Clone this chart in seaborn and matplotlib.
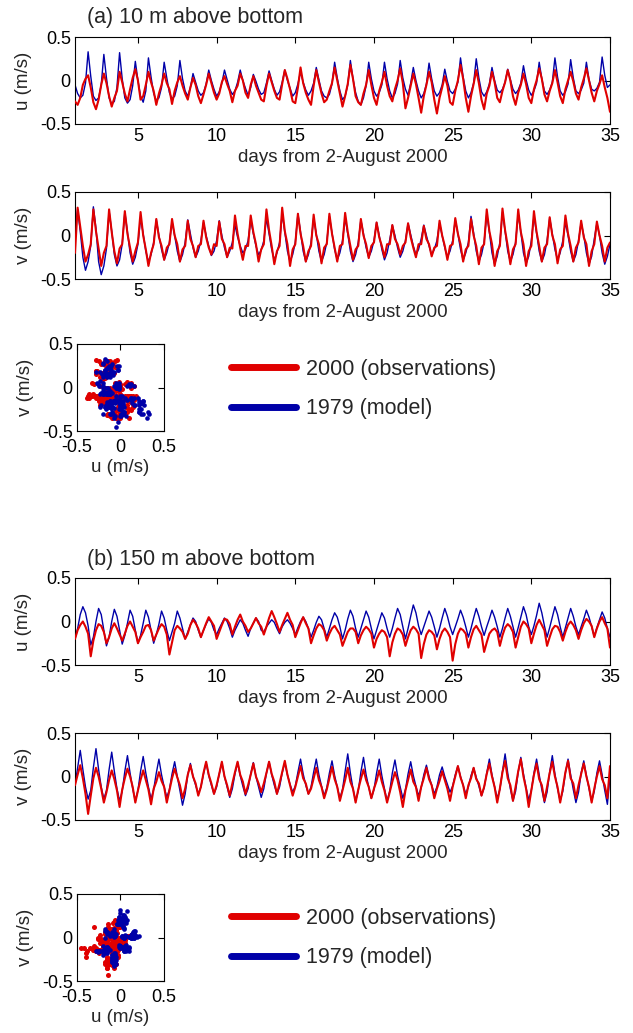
import numpy as np
import matplotlib
matplotlib.use("Agg")
import matplotlib.pyplot as plt
import seaborn as sns
from matplotlib.lines import Line2D

# ---------------- data: velocities in cm/s, 6 samples per day from day 1 to day 35 ----------------
DAY_FIRST, DAY_LAST, SAMPLES_PER_DAY = 1, 35, 6

# (a) 10 m above bottom
A_U_MOD = [-5, -15, -20, -17, -3, 33, 5, -18, -23, -20, -5, 30, 3, -20, -27, -24, -8, 32,
           2, -20, -26, -22, -6, 22, 0, -18, -25, -12, 26, 4, -15, -23, -20, -8, 21, 3,
           -14, -21, -18, -6, 23, 2, -12, -18, -8, 8, -2, -12, -17, -14, -4, 12, 0, -10,
           -18, -13, -3, 12, 1, -10, -16, -12, -2, 12, 0, -9, -17, -8, 7, -1, -10, -16,
           -14, -3, 11, 0, -10, -17, -13, -2, 12, 0, -9, -18, -14, -4, 10, -2, -11, -17,
           -12, -3, 15, 1, -12, -18, -20, -16, -4, 21, 3, -12, -22, -18, -5, 23, 2, -14,
           -24, -28, -20, -6, 21, 2, -12, -18, -14, -5, 21, 2, -12, -20, -15, -4, 23, 3,
           -10, -17, -3, 15, 0, -12, -20, -15, -4, 20, 2, -12, -18, -14, -5, 13, -1, -12,
           -15, -10, -2, 26, 4, -12, -20, -14, -3, 25, 3, -13, -18, -13, -4, 15, 0, -11,
           -14, -10, -2, 13, 1, -10, -15, -11, -3, 17, 1, -11, -17, -12, -3, 21, 2, -12,
           -16, -11, -2, 26, 4, -12, -17, -13, -4, 24, 3, -12, -15, -11, -3, 21, 1, -10,
           -12, -9, -2, 27, 6, -8, -5]
A_U_OBS = [-24, -28, -20, -5, 2, 6, -8, -25, -33, -22, -5, 8, -3, -18, -30, -20, -12, 10,
           -2, -15, -24, -10, 3, 13, 0, -22, -18, -5, 10, -2, -12, -28, -15, -5, 8, -3,
           -10, -27, -12, -2, 5, -6, -15, -22, -8, 3, -5, -18, -26, -16, -5, 8, -3, -14,
           -22, -15, -2, 5, -4, -12, -25, -12, -6, 8, 0, -14, -20, -5, 5, -6, -14, -22,
           -24, -6, 8, -2, -12, -20, -22, -4, 12, 2, -10, -24, -26, -8, 15, -3, -14, -22,
           -28, -6, 12, -2, -15, -25, -22, -12, -3, 15, 0, -15, -30, -18, -4, 18, 2, -18,
           -25, -28, -15, -5, 12, -5, -20, -28, -12, -2, 10, -6, -18, -24, -10, 0, 14, -3,
           -32, -20, -6, 8, -4, -20, -37, -18, -5, 10, -2, -22, -38, -20, -8, 5, -6, -25,
           -28, -12, 0, 18, 2, -20, -36, -18, -4, 12, -3, -22, -33, -15, -6, 10, -2, -20,
           -25, -12, -2, 12, 0, -18, -28, -14, -5, 8, -4, -20, -26, -10, 0, 14, 2, -16,
           -24, -12, -3, 12, -2, -18, -26, -10, 0, 10, -1, -15, -22, -8, 2, 14, 0, -14,
           -24, -12, -4, 6, -8, -20, -36]
A_V_MOD = [5, 30, 5, -25, -40, -30, -12, 33, 8, -30, -45, -35, -15, 28, 5, -22, -35, -28,
           -10, 27, 4, -20, -33, -25, -10, 20, 2, -18, -30, -22, -8, 18, 0, -16, -28, -20,
           -8, 16, 0, -18, -30, -22, -8, 18, 2, -14, -25, -18, -6, 15, 0, -12, -23, -18,
           -6, 17, 0, -14, -25, -18, -8, 12, -2, -12, -20, -16, -6, 18, 2, -12, -22, -17,
           -6, 20, 2, -16, -28, -20, -8, 25, 4, -18, -30, -22, -8, 25, 4, -18, -30, -22,
           -8, 20, 2, -18, -30, -22, -8, 22, 3, -16, -28, -20, -6, 20, 2, -18, -30, -22,
           -8, 18, 2, -14, -25, -18, -6, 15, 0, -16, -28, -20, -5, 12, 0, -14, -25, -18,
           -6, 14, 1, -12, -22, -16, -4, 12, 0, -12, -22, -16, -6, 14, 0, -14, -25, -18,
           -6, 18, 2, -16, -28, -20, -8, 22, 3, -18, -30, -22, -8, 25, 4, -20, -33, -24,
           -8, 27, 5, -18, -30, -22, -8, 25, 4, -20, -32, -24, -6, 22, 3, -18, -30, -22,
           -6, 20, 2, -16, -28, -20, -6, 15, 0, -18, -30, -22, -6, 15, 0, -20, -33, -24,
           -4, 14, 0, -20, -33, -24, -10]
A_V_OBS = [-20, 32, 10, -12, -30, -22, -10, 30, 5, -15, -35, -20, -12, 30, 4, -18, -32, -15,
           -10, 28, 2, -14, -30, -18, -8, 27, 0, -16, -35, -20, -10, 19, -2, -12, -28, -14,
           -10, 19, 0, -10, -30, -16, -12, 17, -4, -12, -25, -12, -10, 17, -2, -14, -22, -10,
           -12, 16, -4, -10, -25, -14, -15, 23, 2, -14, -28, -12, -12, 23, 4, -10, -30, -16,
           -10, 30, 6, -12, -33, -18, -12, 32, 5, -10, -35, -16, -10, 25, 2, -12, -30, -18,
           -12, 24, 0, -10, -32, -14, -10, 25, 2, -14, -30, -12, -10, 26, 4, -12, -28, -16,
           -12, 19, 0, -10, -26, -12, -8, 15, -2, -12, -25, -10, -10, 12, -4, -10, -22, -12,
           -8, 14, -2, -14, -25, -10, -10, 11, -4, -10, -24, -14, -12, 17, 0, -12, -28, -12,
           -10, 20, 2, -10, -30, -16, -12, 19, 0, -12, -33, -14, -10, 30, 5, -10, -35, -18,
           -12, 31, 6, -12, -33, -16, -10, 30, 4, -10, -35, -18, -12, 28, 4, -12, -30, -14,
           -10, 21, 0, -10, -32, -16, -12, 23, 2, -12, -30, -14, -8, 17, -2, -10, -35, -18,
           -10, 16, 0, -12, -30, -14, -8]

# (b) 150 m above bottom
B_U_MOD = [-20, -8, 8, 17, 10, -5, -27, -18, 0, 15, 8, -10, -28, -18, 0, 14, 6, -10,
           -26, -16, -2, 13, 6, -10, -25, -16, -2, 13, 5, -10, -25, -15, -3, 12, 4, -10,
           -22, -12, -2, 12, 4, -8, -20, -12, -4, 4, 0, -10, -18, -10, -3, 3, -1, -10,
           -15, -8, -2, 4, 0, -8, -18, -10, -4, 2, -2, -10, -17, -8, -2, 4, 0, -10,
           -12, -6, -2, 2, -1, -8, -14, -6, -1, 2, -2, -8, -15, -7, 0, 5, 0, -8,
           -18, -10, -1, 6, 2, -8, -18, -8, 2, 10, 5, -6, -20, -10, 3, 13, 6, -8,
           -18, -8, 2, 12, 5, -8, -20, -10, 0, 10, 4, -8, -18, -8, 4, 15, 8, -6,
           -20, -8, 6, 19, 10, -5, -15, -6, 3, 12, 5, -6, -18, -8, 4, 15, 6, -6,
           -15, -6, 3, 13, 5, -6, -18, -8, 4, 15, 6, -6, -16, -6, 3, 13, 5, -6,
           -18, -8, 4, 15, 6, -6, -18, -7, 5, 17, 8, -6, -15, -5, 7, 21, 10, -5,
           -18, -7, 5, 17, 8, -6, -18, -7, 4, 15, 6, -6, -15, -6, 3, 13, 5, -6,
           -17, -7, 2, 11, 4, -8, -18]
B_U_OBS = [-20, -10, -4, 0, -6, -14, -40, -22, -10, -3, -5, -12, -25, -18, -8, -2, -8, -15,
           -22, -14, -5, 0, -6, -12, -25, -18, -12, -5, -4, -10, -22, -15, -8, -3, -6, -15,
           -38, -24, -10, -5, -8, -12, -20, -14, -4, 2, -2, -8, -18, -10, -2, 5, 0, -5,
           -20, -12, -4, 3, 2, -3, -15, -6, 2, 8, 0, -5, -12, -8, -2, 4, -2, -6,
           -15, -6, 4, 12, 5, -3, -12, -4, 3, 10, 2, -4, -18, -10, -2, 5, -2, -8,
           -25, -16, -8, -3, -5, -10, -22, -14, -8, -5, -10, -15, -28, -20, -12, -8, -8, -12,
           -25, -16, -10, -6, -9, -14, -30, -20, -14, -10, -12, -18, -40, -24, -14, -8, -10, -15,
           -28, -18, -10, -6, -9, -14, -42, -26, -15, -10, -12, -16, -32, -20, -12, -8, -12, -18,
           -45, -26, -14, -8, -10, -14, -30, -18, -9, -5, -10, -15, -35, -24, -14, -10, -8, -12,
           -28, -16, -7, -3, -6, -12, -30, -18, -6, 0, -3, -8, -25, -14, -4, 2, -4, -10,
           -28, -18, -9, -5, -6, -12, -22, -12, -4, 0, -4, -10, -20, -10, -2, 3, 0, -5,
           -18, -8, 0, 5, -2, -8, -30]
B_V_MOD = [-10, 10, 30, 8, -12, -26, -16, 10, 32, 8, -12, -26, -16, 8, 28, 6, -14, -28,
           -17, 6, 24, 4, -14, -28, -16, 6, 23, 4, -12, -26, -15, 4, 20, 2, -12, -24,
           -15, 3, 17, 0, -16, -33, -20, 2, 15, 0, -10, -20, -12, 3, 16, 1, -10, -20,
           -12, 3, 16, 0, -12, -24, -14, 3, 16, 1, -11, -22, -14, 3, 16, 0, -12, -24,
           -14, 4, 17, 2, -10, -20, -12, 4, 16, 2, -9, -18, -11, 5, 20, 3, -10, -20,
           -12, 5, 20, 2, -11, -22, -13, 4, 18, 1, -12, -25, -15, 6, 26, 4, -14, -28,
           -17, 5, 22, 2, -12, -25, -15, 4, 20, 1, -14, -28, -17, 4, 19, 1, -12, -25,
           -15, 3, 17, 1, -11, -22, -13, 2, 13, 0, -10, -20, -12, 2, 11, 0, -9, -18,
           -11, 2, 12, 0, -10, -20, -12, 1, 10, -1, -11, -22, -13, 4, 20, 2, -12, -25,
           -15, 6, 26, 4, -14, -28, -17, 5, 22, 3, -13, -27, -16, 4, 20, 2, -15, -30,
           -18, 5, 24, 3, -14, -28, -17, 4, 20, 2, -15, -30, -18, 4, 18, 1, -14, -28,
           -17, 4, 18, 2, -16, -32, 0]
B_V_OBS = [-10, 2, 13, -2, -20, -43, -22, -2, 10, 0, -14, -30, -18, -4, 7, -3, -16, -35,
           -15, -2, 9, 0, -12, -30, -16, -4, 7, -4, -15, -32, -14, -6, 5, -5, -12, -30,
           -16, -2, 9, -1, -10, -25, -14, 2, 13, 0, -8, -22, -12, 4, 17, 2, -8, -20,
           -10, 3, 17, 0, -10, -22, -8, 5, 17, 2, -6, -20, -10, 2, 15, 0, -8, -18,
           -8, 4, 17, 3, -6, -20, -8, 5, 18, 2, -10, -22, -12, 0, 12, -2, -8, -20,
           -14, -2, 10, -4, -12, -25, -15, -2, 11, -3, -12, -28, -16, -4, 10, -6, -14, -30,
           -15, -3, 8, -4, -12, -25, -14, -5, 7, -6, -16, -30, -18, -6, 5, -4, -18, -35,
           -16, -4, 8, -6, -12, -28, -12, -2, 10, -3, -10, -25, -14, -5, 6, -4, -14, -28,
           -12, 0, 12, -1, -10, -25, -10, -2, 10, -3, -8, -22, -12, 3, 15, 0, -12, -30,
           -14, 5, 18, -2, -10, -28, -12, 6, 20, 0, -14, -35, -16, 2, 15, -3, -10, -28,
           -12, 4, 17, 0, -12, -30, -14, 5, 18, -2, -8, -25, -10, 3, 15, 0, -12, -30,
           -14, 0, 12, -3, -10, -25, 12]

SERIES_LABELS = ["2000 (observations)", "1979 (model)"]
PANEL_TITLES = ["(a) 10 m above bottom", "(b) 150 m above bottom"]
XTICKS = [5, 10, 15, 20, 25, 30, 35]
YTICKS = [-0.5, 0, 0.5]
YTICKLABELS = ["-0.5", "0", "0.5"]
XLABEL = "days from 2-August 2000"

# ---------------- styling ----------------
RED = "#e00000"
BLUE = "#0000a8"
W, H = 633, 1033

sns.set_theme(style="white")
plt.rcParams["font.family"] = ["Liberation Sans", "DejaVu Sans"]
plt.rcParams["axes.edgecolor"] = "black"
plt.rcParams["axes.linewidth"] = 0.8

days = np.linspace(DAY_FIRST, DAY_LAST, (DAY_LAST - DAY_FIRST) * SAMPLES_PER_DAY + 1)
to_ms = lambda v: np.asarray(v, dtype=float) / 100.0
for s in (A_U_MOD, A_U_OBS, A_V_MOD, A_V_OBS, B_U_MOD, B_U_OBS, B_V_MOD, B_V_OBS):
    assert len(s) == len(days), len(s)

fig = plt.figure(figsize=(W / 100, H / 100), dpi=100)


def box(l, t, r, b):
    return [l / W, 1 - b / H, (r - l) / W, (b - t) / H]


def style_axes(ax, fs=13, xpad=3):
    for sp in ax.spines.values():
        sp.set_visible(True)
        sp.set_color("black")
        sp.set_linewidth(0.8)
    ax.tick_params(direction="in", top=True, right=True, length=4, width=0.8,
                   labelsize=fs, pad=3, colors="black")
    ax.tick_params(axis="x", pad=xpad)
    ax.set_facecolor("white")


def series_panel(rect, mod, obs, ylabel):
    ax = fig.add_axes(box(*rect))
    sns.lineplot(x=days, y=to_ms(mod), ax=ax, color=BLUE, lw=1.0, estimator=None, zorder=2)
    sns.lineplot(x=days, y=to_ms(obs), ax=ax, color=RED, lw=1.5, estimator=None, zorder=3)
    ax.set_xlim(1, 35)
    ax.set_ylim(-0.5, 0.5)
    ax.set_xticks(XTICKS)
    ax.set_xticklabels([str(x) for x in XTICKS])
    ax.set_yticks(YTICKS)
    ax.set_yticklabels(YTICKLABELS)
    ax.set_xlabel(XLABEL, fontsize=13.5, labelpad=3)
    ax.set_ylabel(ylabel, fontsize=13.5, labelpad=6)
    style_axes(ax)
    return ax


def scatter_panel(rect, u_mod, v_mod, u_obs, v_obs):
    ax = fig.add_axes(box(*rect))
    sns.scatterplot(x=to_ms(u_obs), y=to_ms(v_obs), ax=ax, color=RED, s=13, linewidth=0, zorder=2)
    sns.scatterplot(x=to_ms(u_mod), y=to_ms(v_mod), ax=ax, color=BLUE, s=11, linewidth=0, zorder=3)
    ax.set_xlim(-0.5, 0.5)
    ax.set_ylim(-0.5, 0.5)
    ax.set_xticks(YTICKS)
    ax.set_xticklabels(YTICKLABELS)
    ax.set_yticks(YTICKS)
    ax.set_yticklabels(YTICKLABELS)
    ax.set_xlabel("u (m/s)", fontsize=13.5, labelpad=2)
    ax.set_ylabel("v (m/s)", fontsize=13.5, labelpad=6)
    style_axes(ax, xpad=6)
    return ax


handles = [Line2D([], [], color=RED, lw=5), Line2D([], [], color=BLUE, lw=5)]

# section (a)
fig.text(87 / W, 1 - 17 / H, PANEL_TITLES[0], fontsize=15.5, ha="left", va="center")
series_panel((75, 37, 610, 124), A_U_MOD, A_U_OBS, "u (m/s)")
series_panel((75, 192, 610, 279), A_V_MOD, A_V_OBS, "v (m/s)")
scatter_panel((77, 344, 164, 431), A_U_MOD, A_V_MOD, A_U_OBS, A_V_OBS)
fig.legend(handles, SERIES_LABELS, loc="upper left", bbox_to_anchor=(231 / W, 1 - 359 / H),
           frameon=False, fontsize=15.5, handlelength=3.0, handletextpad=0.5,
           labelspacing=0.85, borderpad=0, borderaxespad=0)

# section (b)
fig.text(87 / W, 1 - 560 / H, PANEL_TITLES[1], fontsize=15.5, ha="left", va="center")
series_panel((75, 578, 610, 665), B_U_MOD, B_U_OBS, "u (m/s)")
series_panel((75, 733, 610, 820), B_V_MOD, B_V_OBS, "v (m/s)")
scatter_panel((77, 894, 164, 981), B_U_MOD, B_V_MOD, B_U_OBS, B_V_OBS)
fig.legend(handles, SERIES_LABELS, loc="upper left", bbox_to_anchor=(231 / W, 1 - 908 / H),
           frameon=False, fontsize=15.5, handlelength=3.0, handletextpad=0.5,
           labelspacing=0.85, borderpad=0, borderaxespad=0)

fig.savefig("out.png", dpi=100, facecolor="white")
